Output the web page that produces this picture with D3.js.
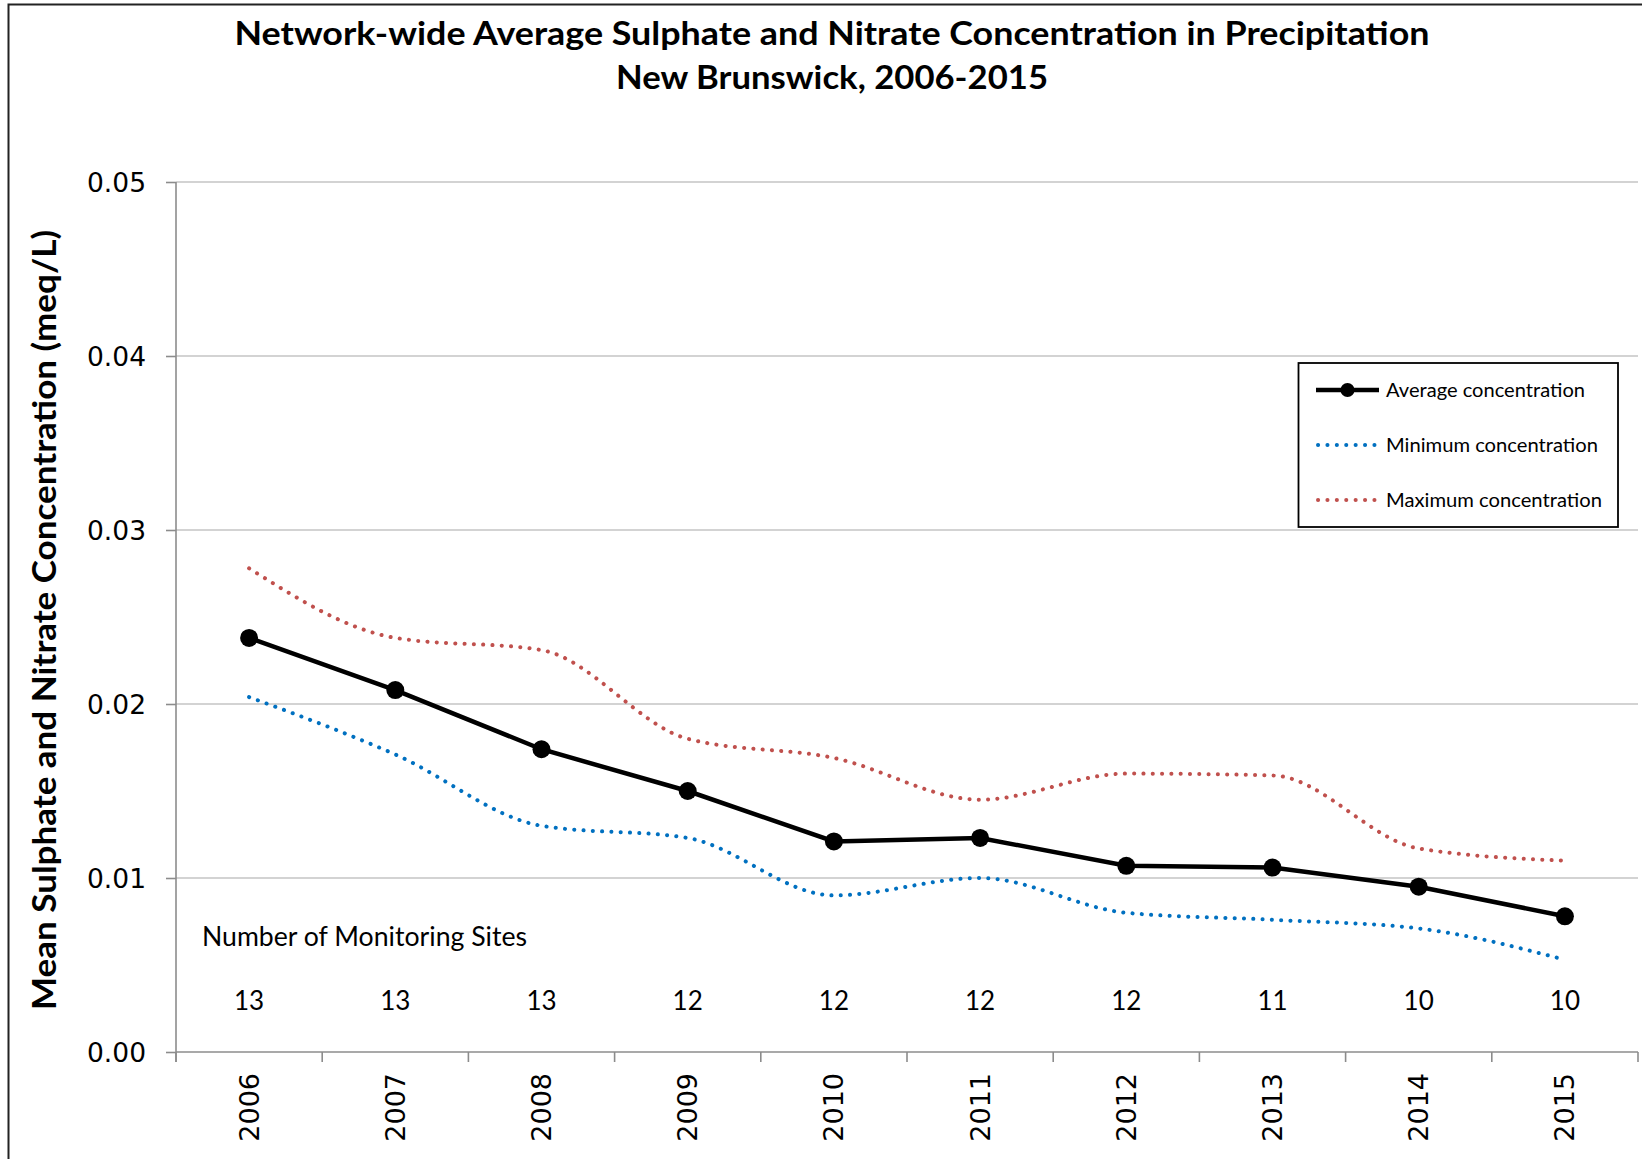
<!DOCTYPE html>
<html>
<head>
<meta charset="utf-8">
<script src="https://cdn.jsdelivr.net/npm/d3@7"></script>
<style>
  html, body { margin: 0; padding: 0; background: #fff; }
  svg { display: block; }
</style>
</head>
<body>
<svg id="chart" width="1642" height="1159"></svg>
<script>
// ---- Data ----
const years = ["2006","2007","2008","2009","2010","2011","2012","2013","2014","2015"];
const avgConc = [0.0238, 0.0208, 0.0174, 0.0150, 0.0121, 0.0123, 0.0107, 0.0106, 0.0095, 0.0078];
const minConc = [0.0204, 0.0171, 0.0130, 0.0123, 0.0090, 0.0100, 0.0080, 0.0076, 0.0071, 0.0053];
const maxConc = [0.0278, 0.0238, 0.0231, 0.0180, 0.0169, 0.0145, 0.0160, 0.0159, 0.0117, 0.0110];
const sites = [13, 13, 13, 12, 12, 12, 12, 11, 10, 10];
const yTicks = [0, 0.01, 0.02, 0.03, 0.04, 0.05];
const seriesNames = ["Average concentration", "Minimum concentration", "Maximum concentration"];
const titleLines = ["Network-wide Average Sulphate and Nitrate Concentration in Precipitation", "New Brunswick, 2006-2015"];
const yTitle = "Mean Sulphate and Nitrate Concentration (meq/L)";
const sitesLabel = "Number of Monitoring Sites";

// ---- Layout ----
const svg = d3.select("#chart");
const plot = { left: 176, right: 1638, top: 182, bottom: 1052 };
const calibri = "Lato, 'Open Sans', sans-serif";
const verdana = "'DejaVu Sans', Verdana, sans-serif";
const colors = { avg: "#000000", min: "#0070C0", max: "#C0504D" };

const x = d3.scaleBand().domain(years).range([plot.left, plot.right]).paddingInner(0).paddingOuter(0);
const xc = d => x(d) + x.bandwidth() / 2;
const y = d3.scaleLinear().domain([0, 0.05]).range([plot.bottom, plot.top]);

// outer chart border (top & left visible)
svg.append("rect").attr("x", 8.5).attr("y", 4.5).attr("width", 1700).attr("height", 1300)
  .attr("fill", "none").attr("stroke", "#222").attr("stroke-width", 2);

// title
svg.append("text").attr("x", 832).attr("y", 45).attr("text-anchor", "middle")
  .attr("font-family", calibri).attr("font-weight", "bold").attr("font-size", 32)
  .attr("textLength", 1195).attr("lengthAdjust", "spacingAndGlyphs")
  .text(titleLines[0]);
svg.append("text").attr("x", 832).attr("y", 89).attr("text-anchor", "middle")
  .attr("font-family", calibri).attr("font-weight", "bold").attr("font-size", 32)
  .attr("textLength", 432).attr("lengthAdjust", "spacingAndGlyphs")
  .text(titleLines[1]);

// y axis title
svg.append("text")
  .attr("transform", "translate(56,620) rotate(-90)")
  .attr("text-anchor", "middle")
  .attr("font-family", calibri).attr("font-weight", "bold").attr("font-size", 32)
  .attr("textLength", 780).attr("lengthAdjust", "spacingAndGlyphs")
  .text(yTitle);

// gridlines
svg.append("g").selectAll("line").data(yTicks.filter(t => t > 0)).join("line")
  .attr("x1", plot.left).attr("x2", plot.right)
  .attr("y1", d => y(d)).attr("y2", d => y(d))
  .attr("stroke", "#c4c4c4").attr("stroke-width", 1.6);

// y axis
const yAxis = d3.axisLeft(y).tickValues(yTicks).tickSize(10).tickPadding(20)
  .tickFormat(d3.format(".2f"));
const gy = svg.append("g").attr("transform", `translate(${plot.left},0)`).call(yAxis);
gy.select(".domain").attr("stroke", "#8c8c8c").attr("stroke-width", 1.6)
  .attr("d", `M-0,${plot.top}V${plot.bottom + 10}`);
gy.selectAll(".tick line").attr("stroke", "#8c8c8c").attr("stroke-width", 1.6);
gy.selectAll(".tick text").attr("font-family", verdana).attr("font-size", 26.5).attr("fill", "#000")
  .attr("dy", "0.36em");

// x axis (ticks at band boundaries)
const gx = svg.append("g").attr("transform", `translate(0,${plot.bottom})`);
gx.append("line").attr("x1", plot.left).attr("x2", plot.right).attr("y1", 0).attr("y2", 0)
  .attr("stroke", "#8c8c8c").attr("stroke-width", 1.6);
const bounds = years.map(d => x(d)).concat([plot.right]);
gx.selectAll("line.tk").data(bounds).join("line").attr("class", "tk")
  .attr("x1", d => d).attr("x2", d => d).attr("y1", 0).attr("y2", 10)
  .attr("stroke", "#8c8c8c").attr("stroke-width", 1.6);
gx.selectAll("text").data(years).join("text")
  .attr("transform", d => `translate(${xc(d) + 9.5},21) rotate(-90)`)
  .attr("text-anchor", "end")
  .attr("font-family", verdana).attr("font-size", 27).attr("fill", "#000")
  .text(d => d);

// number of monitoring sites
svg.append("text").attr("x", 202).attr("y", 946)
  .attr("font-family", calibri).attr("font-size", 26)
  .attr("textLength", 325).attr("lengthAdjust", "spacingAndGlyphs")
  .text(sitesLabel);
svg.append("g").selectAll("text").data(years).join("text")
  .attr("x", d => xc(d)).attr("y", 1010).attr("text-anchor", "middle")
  .attr("font-family", calibri).attr("font-size", 26)
  .text((d, i) => sites[i]);

// lines
const smooth = d3.line().x((d, i) => xc(years[i])).y(d => y(d)).curve(d3.curveMonotoneX);
const straight = d3.line().x((d, i) => xc(years[i])).y(d => y(d));

svg.append("path").datum(maxConc).attr("d", smooth)
  .attr("fill", "none").attr("stroke", colors.max).attr("stroke-width", 4)
  .attr("stroke-linecap", "round").attr("stroke-dasharray", "0.1 9.2");
svg.append("path").datum(minConc).attr("d", smooth)
  .attr("fill", "none").attr("stroke", colors.min).attr("stroke-width", 4)
  .attr("stroke-linecap", "round").attr("stroke-dasharray", "0.1 9.2");
svg.append("path").datum(avgConc).attr("d", straight)
  .attr("fill", "none").attr("stroke", colors.avg).attr("stroke-width", 4.5);
svg.append("g").selectAll("circle").data(avgConc).join("circle")
  .attr("cx", (d, i) => xc(years[i])).attr("cy", d => y(d)).attr("r", 9)
  .attr("fill", colors.avg);

// legend
const lg = svg.append("g");
lg.append("rect").attr("x", 1298.5).attr("y", 363).attr("width", 319.5).attr("height", 164)
  .attr("fill", "#fff").attr("stroke", "#000").attr("stroke-width", 1.8);
const legendItems = [
  { name: seriesNames[0], color: colors.avg, type: "avg", y: 390, w: 199 },
  { name: seriesNames[1], color: colors.min, type: "dot", y: 445, w: 212 },
  { name: seriesNames[2], color: colors.max, type: "dot", y: 500, w: 216 }
];
legendItems.forEach(it => {
  if (it.type === "avg") {
    lg.append("line").attr("x1", 1316).attr("x2", 1379).attr("y1", it.y).attr("y2", it.y)
      .attr("stroke", it.color).attr("stroke-width", 4.5);
    lg.append("circle").attr("cx", 1347.5).attr("cy", it.y).attr("r", 7).attr("fill", it.color);
  } else {
    lg.append("line").attr("x1", 1318).attr("x2", 1378).attr("y1", it.y).attr("y2", it.y)
      .attr("stroke", it.color).attr("stroke-width", 4)
      .attr("stroke-linecap", "round").attr("stroke-dasharray", "0.1 9.3");
  }
  lg.append("text").attr("x", 1386).attr("y", it.y + 6.5)
    .attr("font-family", calibri).attr("font-size", 18.5)
    .attr("textLength", it.w).attr("lengthAdjust", "spacingAndGlyphs")
    .text(it.name);
});
</script>
</body>
</html>
